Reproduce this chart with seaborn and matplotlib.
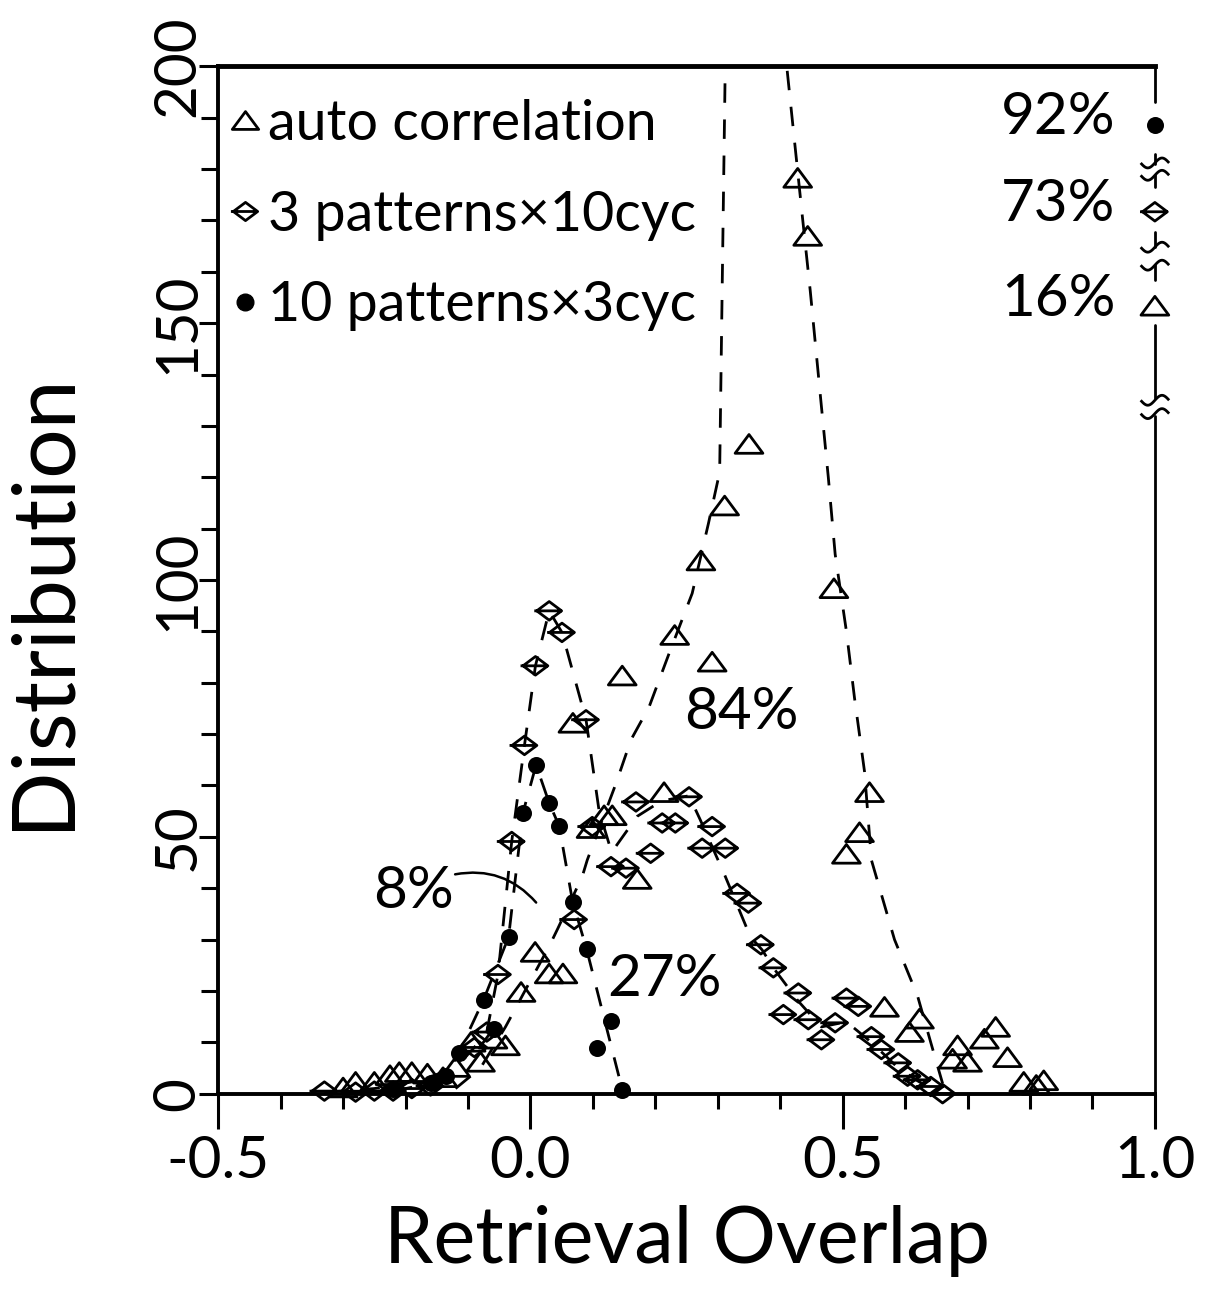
import numpy as np
import pandas as pd
import matplotlib
matplotlib.use("Agg")
import matplotlib.pyplot as plt
import matplotlib.transforms as mtransforms
from matplotlib.path import Path
from matplotlib.lines import Line2D
import seaborn as sns

# --- data -----------------------------------------------------------------
# auto correlation (open triangles)
auto_x = [-0.30, -0.28, -0.25, -0.225, -0.21, -0.19, -0.165, -0.14, -0.12, -0.095,
          -0.08, -0.06, -0.04, -0.015, 0.0075, 0.030, 0.052, 0.068, 0.097, 0.118,
          0.131, 0.147, 0.171, 0.214, 0.231, 0.273, 0.291, 0.311, 0.350, 0.428,
          0.444, 0.486, 0.506, 0.527, 0.543, 0.567, 0.607, 0.623, 0.676, 0.684,
          0.700, 0.727, 0.745, 0.764, 0.790, 0.810, 0.822]
auto_y = [1.0, 2.1, 2.1, 3.4, 4.0, 4.0, 3.7, 3.0, 5.0, 9.9,
          6.0, 10.5, 9.2, 19.6, 27.4, 23.2, 23.2, 72.0, 51.5, 54.0,
          54.0, 81.2, 41.6, 58.5, 89.1, 103.6, 83.9, 114.3, 126.3, 178.1,
          166.8, 98.2, 46.5, 50.7, 58.5, 16.7, 11.8, 14.4, 6.6, 9.2,
          6.0, 10.5, 12.8, 6.9, 2.1, 1.5, 2.4]

# 3 patterns x 10 cycles
p3_x = [-0.33, -0.28, -0.25, -0.22, -0.19, -0.16, -0.09, -0.07, -0.052, -0.030,
        -0.0096, 0.008, 0.030, 0.0505, 0.070, 0.089, 0.099, 0.129, 0.153, 0.169,
        0.1925, 0.211, 0.232, 0.254, 0.275, 0.291, 0.312, 0.331, 0.349, 0.369,
        0.389, 0.405, 0.429, 0.445, 0.466, 0.488, 0.506, 0.525, 0.546, 0.562,
        0.589, 0.604, 0.620, 0.641, 0.660]
p3_y = [0.5, 0.3, 0.5, 0.5, 1.0, 1.5, 9.0, 12.0, 23.2, 49.1,
        67.8, 83.3, 94.0, 89.8, 33.9, 72.8, 52.0, 44.2, 43.9, 56.8,
        46.8, 52.7, 52.7, 57.8, 47.8, 52.0, 47.8, 39.0, 37.1, 29.0,
        24.5, 15.4, 19.6, 14.4, 10.5, 13.8, 18.6, 17.0, 11.1, 8.6,
        6.0, 3.4, 2.7, 1.4, 0.0]

# 10 patterns x 3 cycles
p10_x = [-0.22, -0.16, -0.135, -0.115, -0.075, -0.058, -0.035, -0.012, 0.009, 0.030,
         0.046, 0.0675, 0.0898, 0.107, 0.129, 0.147]
p10_y = [1.0, 2.0, 3.4, 7.9, 18.3, 12.5, 30.5, 54.7, 64.0, 56.6,
         52.1, 37.4, 28.2, 8.9, 14.1, 0.8]

# dashed curves
auto_curve_x = [-0.12, -0.08, -0.04, 0.0, 0.03, 0.044, 0.083, 0.091, 0.137, 0.161,
                0.19, 0.222, 0.259, 0.285, 0.303, 0.33, 0.368, 0.413, 0.435, 0.448,
                0.465, 0.477, 0.488, 0.506, 0.519, 0.535, 0.546, 0.583, 0.62, 0.641, 0.66]
auto_curve_y = [1, 5, 13, 22, 28.7, 32.2, 42.3, 45.5, 60.4, 68.9,
                75.3, 85.7, 97.4, 111, 121, 360, 250, 197, 171.3, 156.4,
                135, 120, 105, 90, 77, 62.7, 45.5, 30, 19, 10, 2]
p3_curve_x = [-0.33, -0.25, -0.18, -0.12, -0.09, -0.07, -0.052, -0.03, -0.0096, 0.008,
              0.030, 0.0505, 0.089, 0.11, 0.13, 0.171, 0.21, 0.254, 0.272, 0.312,
              0.352, 0.371, 0.389, 0.429, 0.466, 0.506, 0.546, 0.589, 0.62, 0.655]
p3_curve_y = [0.3, 1.0, 2.5, 5, 9, 12, 23.2, 49.1, 67.8, 83.3,
              94.0, 89.8, 72.8, 55, 47, 54, 57, 58, 53.3, 42.3,
              30.6, 28, 24.5, 18, 13, 14, 10, 5, 2.5, 0]
p10_curve_x = [-0.22, -0.16, -0.135, -0.115, -0.075, -0.035, -0.012, 0.009, 0.030, 0.046,
               0.0675, 0.0898, 0.147]
p10_curve_y = [0.5, 2, 3.4, 7.9, 18.3, 30.5, 54.7, 64.0, 56.6, 52.1,
               37.4, 28.2, 0.8]

series_labels = ["auto correlation", "3 patterns\u00d710cyc", "10 patterns\u00d73cyc"]

# share of perfect retrieval (overlap = 1), drawn on the right edge
perfect_labels = ["92%", "73%", "16%"]
perfect_y = [188.5, 171.7, 153.2]

# share inside the distribution
dist_labels = ["84%", "27%", "8%"]
dist_x = [0.337, 0.215, -0.187]
dist_y = [74.3, 22.2, 39.3]

# broken right axis: drawn pieces and break marks
edge_pieces = [(0, 132), (135.5, 149.6), (158.4, 161.3), (164.8, 167.7),
               (176.5, 178.8), (181, 183), (193, 200)]
edge_breaks = [132.4, 135.0, 161.3, 164.8, 178.8, 181.2]

# --- style ------------------------------------------------------------------
sns.set_style("ticks")
plt.rcParams["font.family"] = ["Lato", "DejaVu Sans"]
plt.rcParams["axes.unicode_minus"] = False
plt.rcParams["lines.scale_dashes"] = False
for key in ["text.color", "axes.labelcolor", "xtick.color", "ytick.color", "axes.edgecolor"]:
    plt.rcParams[key] = "black"

tri = Path([(-1, -0.6), (1, -0.6), (0, 0.75), (-1, -0.6)],
           [Path.MOVETO, Path.LINETO, Path.LINETO, Path.CLOSEPOLY])
lens = Path([(-1, 0), (0, 0.75), (1, 0), (0, -0.75), (-1, 0), (-1.2, 0), (1.0, 0)],
            [Path.MOVETO, Path.LINETO, Path.LINETO, Path.LINETO, Path.CLOSEPOLY,
             Path.MOVETO, Path.LINETO])
t = np.linspace(-1, 1, 25)
tilde = Path(np.column_stack([t, 0.35 * np.sin(np.pi * t)]))
dash = (0, (14, 12))
open_kw = dict(facecolors="none", edgecolors="black", linewidths=2.0)

fig = plt.figure(figsize=(12.26, 13.02), dpi=100)
ax = fig.add_axes([0.178, 0.160, 0.764, 0.789])

for cx, cy in [(auto_curve_x, auto_curve_y), (p3_curve_x, p3_curve_y), (p10_curve_x, p10_curve_y)]:
    sns.lineplot(x=cx, y=cy, sort=False, estimator=None, color="black", ax=ax)
    ax.lines[-1].set_linestyle(dash)
    ax.lines[-1].set_linewidth(2.0)

sns.scatterplot(x=auto_x, y=auto_y, marker=tri, s=400, clip_on=False, ax=ax,
                zorder=3, **open_kw)
sns.scatterplot(x=p3_x, y=p3_y, marker=lens, s=460, clip_on=False, ax=ax,
                zorder=3, **open_kw)
sns.scatterplot(x=p10_x, y=p10_y, marker="o", s=150, color="black",
                linewidth=0, clip_on=False, ax=ax, zorder=3)

# markers at overlap = 1.0 (perfect retrieval)
sns.scatterplot(x=[1.0], y=[perfect_y[0]], marker="o", s=150, color="black",
                linewidth=0, clip_on=False, ax=ax, zorder=4)
sns.scatterplot(x=[1.0], y=[perfect_y[1]], marker=lens, s=460, clip_on=False,
                ax=ax, zorder=4, **open_kw)
sns.scatterplot(x=[1.0], y=[perfect_y[2]], marker=tri, s=400, clip_on=False,
                ax=ax, zorder=4, **open_kw)
for lab, yv in zip(perfect_labels, perfect_y):
    ax.text(0.845, yv + 1.5, lab, ha="center", va="center", fontsize=42)

for lab, xv, yv in zip(dist_labels, dist_x, dist_y):
    ax.text(xv, yv, lab, ha="center", va="center", fontsize=42)

# leader for the 8% label
ax.annotate("", xy=(0.012, 36.8), xytext=(-0.125, 42.6),
            arrowprops=dict(arrowstyle="-", color="black", lw=1.8,
                            connectionstyle="arc3,rad=-0.3"))

ax.set_xlim(-0.5, 1.0)
ax.set_ylim(0, 200)
ax.set_xticks([-0.5, 0.0, 0.5, 1.0])
ax.set_xticklabels(["-0.5", "0.0", "0.5", "1.0"])
ax.set_xticks(np.arange(-0.5, 1.01, 0.1), minor=True)
ax.set_yticks([0, 50, 100, 150, 200])
ax.set_yticks(np.arange(0, 201, 10), minor=True)
ax.tick_params(axis="x", which="major", direction="out", length=25, width=2.2,
               labelsize=42, pad=5)
ax.tick_params(axis="x", which="minor", direction="out", length=11, width=2.2)
ax.tick_params(axis="y", which="major", direction="out", length=14, width=2.2,
               labelsize=42, pad=-4, labelrotation=90)
ax.tick_params(axis="y", which="minor", direction="out", length=12, width=2.2)
for lab in ax.get_yticklabels():
    lab.set_va("center")

ax.set_xlabel("Retrieval Overlap", fontsize=57, labelpad=12)
ax.set_ylabel("Distribution", fontsize=63)
ax.yaxis.set_label_coords(-0.145, 0.48)

for side in ["left", "bottom"]:
    ax.spines[side].set_linewidth(2.8)
ax.spines["top"].set_linewidth(3.5)
ax.spines["right"].set_visible(False)

# broken right-hand axis
edge = mtransforms.blended_transform_factory(ax.transAxes, ax.transData)
for y0, y1 in edge_pieces:
    ax.plot([1, 1], [y0, y1], color="black", lw=2.0, transform=edge, clip_on=False)
ax.scatter(np.ones(len(edge_breaks)), edge_breaks, marker=tilde, s=420,
           facecolors="none", edgecolors="black", linewidths=2.0,
           transform=edge, clip_on=False, zorder=4)

handles = [Line2D([], [], marker=tri, ls="none", mfc="none", mec="black", ms=19, mew=2.0),
           Line2D([], [], marker=lens, ls="none", mfc="none", mec="black", ms=21, mew=2.0),
           Line2D([], [], marker="o", ls="none", color="black", ms=12)]
ax.legend(handles, series_labels, loc="upper left", bbox_to_anchor=(0.012, 0.968),
          frameon=False, fontsize=40, handlelength=0.55, handletextpad=0.15,
          labelspacing=0.71, borderpad=0, borderaxespad=0)

fig.savefig("out.png", dpi=100)
